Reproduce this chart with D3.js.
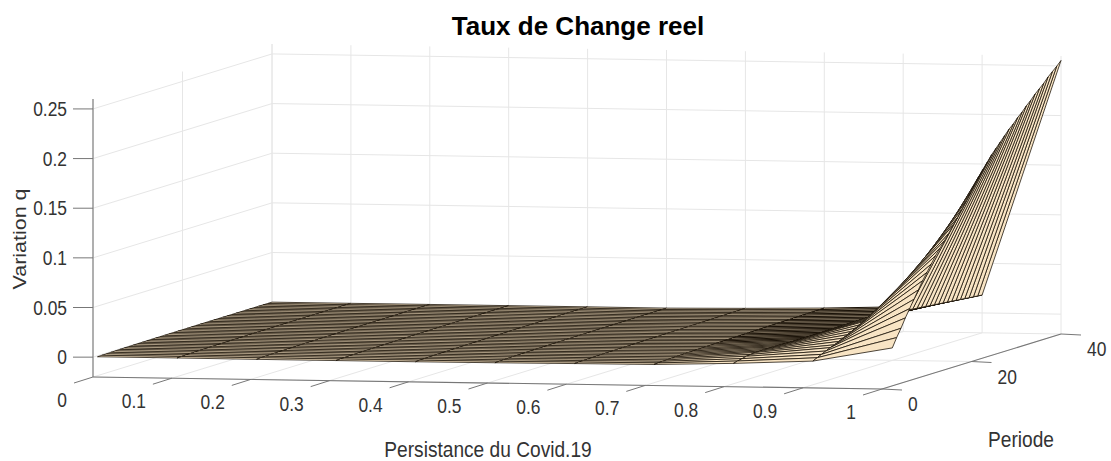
<!DOCTYPE html>
<html><head><meta charset="utf-8">
<script src="https://cdn.jsdelivr.net/npm/d3@7/dist/d3.min.js"></script>
<style>html,body{margin:0;padding:0;background:#fff}svg{display:block}text{font-family:"Liberation Sans",Arial,sans-serif;fill:#333}</style>
</head><body><svg id="c" width="1111" height="461"></svg>
<script>
const titleText = "Taux de Change reel";
const xLabel = "Persistance du Covid.19";
const yLabel = "Periode";
const zLabel = "Variation q";
const xTicks = [0,0.1,0.2,0.3,0.4,0.5,0.6,0.7,0.8,0.9,1];
const xTickLabels = ["0","0.1","0.2","0.3","0.4","0.5","0.6","0.7","0.8","0.9","1"];
const tTicks = [0,20,40];
const zTicks = [0,0.05,0.1,0.15,0.2,0.25];
const zTickLabels = ["0","0.05","0.1","0.15","0.2","0.25"];
const periods = [1,2,3,4,5,6,7,8,9,10,11,12,13,14,15,16,17,18,19,20,21,22,23,24,25,26,27,28,29,30,31,32,33,34,35,36,37,38,39,40];
const persistence = [0,0.1,0.2,0.3,0.4,0.5,0.6,0.7,0.8,0.9,1];
const zLow = [-.001,-.0009,-.0008,-.0007,-.0006,-.0005,-.0005,-.0004,-.0004,-.0003,-.0003,-.0003,-.0002,-.0002,-.0002,-.0002,-.0001,-.0001,-.0001,-.0001,-.0001,-.0001,0,0,0,0,0,0,0,0,0,0,0,0,0,0,0,0,0,0];
const zMid = [-.0012,-.001,-.0009,-.0008,-.0007,-.0006,-.0006,-.0005,-.0005,-.0004,-.0004,-.0003,-.0003,-.0003,-.0002,-.0002,-.0002,-.0001,-.0001,-.0001,-.0001,0,0,0,0,0,0,0,0,0,0,0,0,.0001,.0001,.0001,.0001,.0001,.0001,.0001];
const z06 = [-.0006,-.0005,-.0004,-.0003,-.0002,-.0001,-.0001,0,0,0,.0001,.0001,.0001,.0002,.0002,.0002,.0003,.0003,.0003,.0003,.0004,.0004,.0004,.0005,.0005,.0005,.0006,.0006,.0006,.0007,.0007,.0007,.0008,.0008,.0008,.0009,.0009,.0009,.001,.001];
const z07 = [-.0003,-.0001,.0001,.0002,.0004,.0005,.0006,.0007,.0008,.0009,.001,.001,.0011,.0011,.0012,.0012,.0013,.0013,.0014,.0014,.0015,.0015,.0016,.0016,.0017,.0017,.0018,.0018,.0019,.0019,.002,.002,.0021,.0021,.0022,.0022,.0023,.0023,.0024,.0025];
const z08 = [.002,.003,.004,.005,.0055,.006,.006,.006,.006,.006,.0058,.0056,.0054,.0052,.005,.005,.0048,.0046,.0045,.0044,.0043,.0042,.0042,.0041,.0041,.004,.004,.004,.004,.004,.004,.0041,.0042,.0043,.0044,.0045,.0046,.0047,.0048,.005];
const z09 = [.0055,.0075,.0095,.0115,.0135,.015,.017,.019,.021,.023,.025,.027,.029,.030,.031,.032,.032,.032,.031,.030,.029,.028,.027,.026,.0255,.025,.0245,.024,.0235,.023,.0225,.022,.0215,.021,.0205,.020,.0195,.019,.0185,.018];
const z10 = [.020,.029,.037,.046,.054,.062,.070,.078,.085,.092,.099,.105,.111,.117,.124,.130,.137,.144,.151,.158,.165,.171,.177,.183,.188,.193,.198,.203,.207,.212,.216,.221,.225,.230,.234,.238,.243,.247,.251,.2555];
const columns = [zLow,zLow,zMid,zMid,zMid,zLow,z06,z07,z08,z09,z10];

// oblique 3-D view built from linear scales
const originX = 93, originY = 377;
const xAcross = d3.scaleLinear([0,1],[0,789]);
const xDrop   = d3.scaleLinear([0,1],[0,12]);
const tAcross = d3.scaleLinear([0,40],[0,179]);
const tRise   = d3.scaleLinear([0,40],[0,-55]);
const zRise   = d3.scaleLinear([-0.02,0.26],[0,-278]);
const zMin = -0.02, zMax = 0.26, tMax = 40;
const P = (x,t,z) => [originX + xAcross(x) + tAcross(t), originY + xDrop(x) + tRise(t) + zRise(z)];
const meshSkew = d3.scaleLinear([0,1],[0,6]);
const M = (x,t,z) => { const p = P(x,t,z); return [p[0] + meshSkew(x)*(1 - t/tMax), p[1]]; };

const svg = d3.select("#c");
const seg = (g,a,b,col,w) => g.append("line").attr("x1",a[0]).attr("y1",a[1]).attr("x2",b[0]).attr("y2",b[1]).attr("stroke",col).attr("stroke-width",w);
const squeeze = 0.87;
const label = (g,x,y,str,size,anchor) => g.append("text").attr("transform",`translate(${x},${y}) scale(${squeeze},1)`).attr("text-anchor",anchor).attr("font-size",size).text(str);

// grid
const grid = svg.append("g");
const gc = "#e6e6e6";
xTicks.forEach(x => {
  seg(grid,P(x,tMax,zMin),P(x,tMax,zMax),gc,1);
  seg(grid,P(x,0,zMin),P(x,tMax,zMin),gc,1);
});
tTicks.forEach(t => {
  seg(grid,P(0,t,zMin),P(0,t,zMax),gc,1);
  seg(grid,P(0,t,zMin),P(1,t,zMin),gc,1);
});
zTicks.forEach(z => {
  seg(grid,P(0,0,z),P(0,tMax,z),gc,1);
  seg(grid,P(0,tMax,z),P(1,tMax,z),gc,1);
});

// surface, painted back to front
const surf = svg.append("g");
const line = d3.line();
for (let r = periods.length-2; r >= 0; r--) {
  for (let c = 0; c < persistence.length-1; c++) {
    const q = [
      M(persistence[c],periods[r],columns[c][r]),
      M(persistence[c+1],periods[r],columns[c+1][r]),
      M(persistence[c+1],periods[r+1],columns[c+1][r+1]),
      M(persistence[c],periods[r+1],columns[c][r+1])
    ];
    surf.append("path").attr("d",line(q)+"Z").attr("fill","#f8e4c4").attr("stroke","#1a1208")
      .attr("stroke-width",(c===7 && r>=14) ? 1 : 0.78).attr("stroke-linejoin","round");
  }
}

// axes
const ax = svg.append("g");
const ac = "#777";
seg(ax,P(0,0,zMin),P(0,0,zMax),ac,1.1);
seg(ax,P(0,0,zMin),P(1,0,zMin),ac,1.1);
seg(ax,P(1,0,zMin),P(1,tMax,zMin),ac,1.1);
const tick = 20;
zTicks.forEach((z,i) => {
  const p = P(0,0,z);
  seg(ax,p,[p[0]-tick,p[1]],ac,1);
  label(ax,p[0]-26,p[1]+7,zTickLabels[i],20,"end");
});
xTicks.forEach((x,i) => {
  const p = P(x,0,zMin);
  seg(ax,p,[p[0]-19,p[1]+6],ac,1);
  label(ax,p[0]-26,p[1]+30,xTickLabels[i],20,"end");
});
tTicks.forEach(t => {
  const p = P(1,t,zMin);
  seg(ax,p,[p[0]+20,p[1]+1],ac,1);
  label(ax,p[0]+26,p[1]+22,String(t),20,"start");
});

svg.append("text").attr("x",578).attr("y",35).attr("text-anchor","middle").attr("font-size",26).attr("font-weight","bold").style("fill","#000").text(titleText);
svg.append("text").attr("transform",`translate(26,239) rotate(-90) scale(1,${squeeze})`).attr("text-anchor","middle").attr("font-size",21.5).text(zLabel);
label(svg,488,457,xLabel,22,"middle");
label(svg,1021,447,yLabel,22,"middle");
</script></body></html>
